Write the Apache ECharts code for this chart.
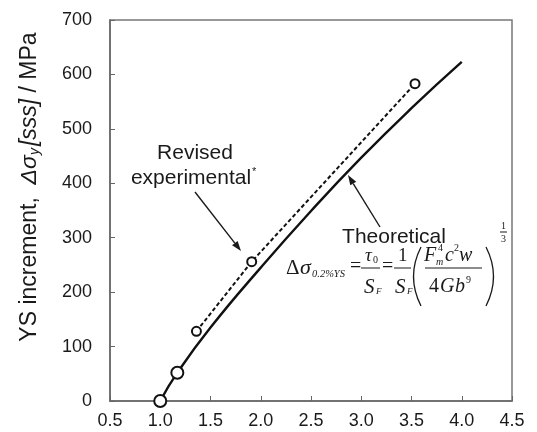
<!DOCTYPE html>
<html>
<head>
<meta charset="utf-8">
<script src="https://cdn.jsdelivr.net/npm/echarts@6/dist/echarts.min.js"></script>
<style>
  html, body { margin: 0; padding: 0; background: #fff; }
  #main { width: 537px; height: 432px; }
</style>
</head>
<body>
<div id="main"></div>
<script>
// data
var theoX = [1.0, 1.17, 1.5, 2.0, 2.5, 3.0, 3.5, 4.0];
var theoY = [0, 52, 135, 245, 349, 447, 538, 623];
var theoMarked = [true, true, false, false, false, false, false, false];
var expX = [1.36, 1.91, 3.535];
var expY = [128, 256, 583];
var xTicks = [0.5, 1.0, 1.5, 2.0, 2.5, 3.0, 3.5, 4.0, 4.5];
var yTicks = [0, 100, 200, 300, 400, 500, 600, 700];

var myChart = echarts.init(document.getElementById('main'));

var sans = 'Liberation Sans, Arial, sans-serif';
var serif = 'Liberation Serif, Times New Roman, serif';
var ink = '#1a1a1a';

// small helpers for the annotations
function txt(s, x, y, size, opt) {
  opt = opt || {};
  return {
    type: 'text', x: x, y: y, z: 50,
    style: {
      text: s, fontSize: size, fontFamily: opt.family || serif,
      fontStyle: opt.italic ? 'italic' : 'normal',
      fill: ink, align: opt.align || 'left', verticalAlign: 'middle'
    }
  };
}
function bar(x1, x2, y) {
  return { type: 'line', z: 50, shape: { x1: x1, y1: y, x2: x2, y2: y }, style: { stroke: ink, lineWidth: 1 } };
}
function paren(x, xc, y1, y2) {
  return {
    type: 'bezierCurve', z: 50,
    shape: { x1: x, y1: y1, x2: x, y2: y2, cpx1: xc, cpy1: (y1 + y2) / 2 },
    style: { stroke: ink, lineWidth: 1.3, fill: null }
  };
}
function arrow(x1, y1, x2, y2) {
  var a = Math.atan2(y2 - y1, x2 - x1), L = 10, W = 3.5;
  var bx = x2 - L * Math.cos(a), by = y2 - L * Math.sin(a);
  return [
    { type: 'line', z: 50, shape: { x1: x1, y1: y1, x2: bx, y2: by }, style: { stroke: ink, lineWidth: 1.4 } },
    { type: 'polygon', z: 50, shape: { points: [[x2, y2], [bx + W * Math.sin(a), by - W * Math.cos(a)], [bx - W * Math.sin(a), by + W * Math.cos(a)]] }, style: { fill: ink } }
  ];
}

var theoData = theoX.map(function (x, i) {
  return theoMarked[i] ? [x, theoY[i]] : { value: [x, theoY[i]], symbol: 'none' };
});
var expData = expX.map(function (x, i) { return [x, expY[i]]; });

var graphics = [
  // y axis title
  {
    type: 'text', x: 30, y: 187, rotation: Math.PI / 2, z: 50,
    style: {
      text: 'YS increment,  {i|Δσ}{s|y}{i|[sss]} / MPa',
      fontSize: 23, fontFamily: sans, fill: ink, align: 'center', verticalAlign: 'middle',
      rich: {
        i: { fontSize: 23, fontFamily: sans, fontStyle: 'italic', fill: ink },
        s: { fontSize: 14, fontFamily: sans, fontStyle: 'italic', fill: ink, padding: [10, 2, 0, 0] }
      }
    }
  },
  txt('Revised', 195, 153, 21, { family: sans, align: 'center' }),
  txt('experimental', 191, 178, 21, { family: sans, align: 'center' }),
  txt('*', 252, 172, 11, { family: sans }),
  txt('Theoretical', 394, 237, 21, { family: sans, align: 'center' }),

  // formula
  txt('Δ', 286, 268, 21),
  txt('σ', 300, 268, 22, { italic: true }),
  txt('0.2%YS', 312, 274, 10.5, { italic: true }),
  txt('=', 350, 267, 20),
  txt('τ', 365, 256, 19, { italic: true }),
  txt('0', 373, 260, 10),
  bar(361, 380, 268),
  txt('S', 364, 287, 21, { italic: true }),
  txt('F', 376, 292, 9, { italic: true }),
  txt('=', 382, 267, 20),
  txt('1', 398, 256, 19),
  bar(394, 411, 268),
  txt('S', 395, 287, 21, { italic: true }),
  txt('F', 407, 292, 9, { italic: true }),
  paren(421, 406, 247, 306),
  txt('F', 424, 256, 20, { italic: true }),
  txt('m', 436, 262, 10, { italic: true }),
  txt('4', 438, 248, 10),
  txt('c', 445, 256, 20, { italic: true }),
  txt('2', 454, 248, 10),
  txt('w', 459, 256, 20, { italic: true }),
  bar(425, 482, 268),
  txt('4', 429, 287, 20),
  txt('G', 440, 287, 20, { italic: true }),
  txt('b', 455, 287, 20, { italic: true }),
  txt('9', 466, 280, 10),
  paren(486, 501, 247, 306),
  txt('1', 501, 226, 10),
  bar(500, 507, 232),
  txt('3', 501, 239, 10)
];
graphics = graphics.concat(arrow(195, 192, 241, 251), arrow(380, 227, 348, 175));

var option = {
  animation: false,
  backgroundColor: '#fff',
  grid: {
    left: 110, right: 25, top: 20, bottom: 31,
    show: true, borderColor: '#777', borderWidth: 1.5, backgroundColor: 'transparent'
  },
  xAxis: {
    type: 'value', min: xTicks[0], max: xTicks[xTicks.length - 1], interval: 0.5,
    axisLine: { lineStyle: { color: '#666', width: 1.5 } },
    axisTick: { inside: true, length: 5, lineStyle: { color: '#666' } },
    axisLabel: {
      margin: 11, fontSize: 18, fontFamily: sans, color: '#1a1a1a',
      formatter: function (v) { return v.toFixed(1); }
    },
    splitLine: { show: false }
  },
  yAxis: {
    type: 'value', min: yTicks[0], max: yTicks[yTicks.length - 1], interval: 100,
    axisLine: { show: true, lineStyle: { color: '#666', width: 1.5 } },
    axisTick: { show: true, inside: true, length: 5, lineStyle: { color: '#666' } },
    axisLabel: { margin: 18, fontSize: 18, fontFamily: sans, color: '#1a1a1a' },
    splitLine: { show: false }
  },
  series: [
    {
      name: 'Theoretical', type: 'line', data: theoData, smooth: 0.5,
      symbol: 'emptyCircle', symbolSize: 12, z: 3,
      lineStyle: { color: '#111', width: 2.4 },
      itemStyle: { color: '#111', borderColor: '#111', borderWidth: 1.5 }
    },
    {
      name: 'Revised experimental', type: 'line', data: expData,
      symbol: 'emptyCircle', symbolSize: 9, z: 3,
      lineStyle: { color: '#111', width: 2, type: [4, 2.5] },
      itemStyle: { color: '#111', borderColor: '#111', borderWidth: 1.4 }
    }
  ],
  graphic: graphics
};

myChart.setOption(option);
</script>
</body>
</html>
